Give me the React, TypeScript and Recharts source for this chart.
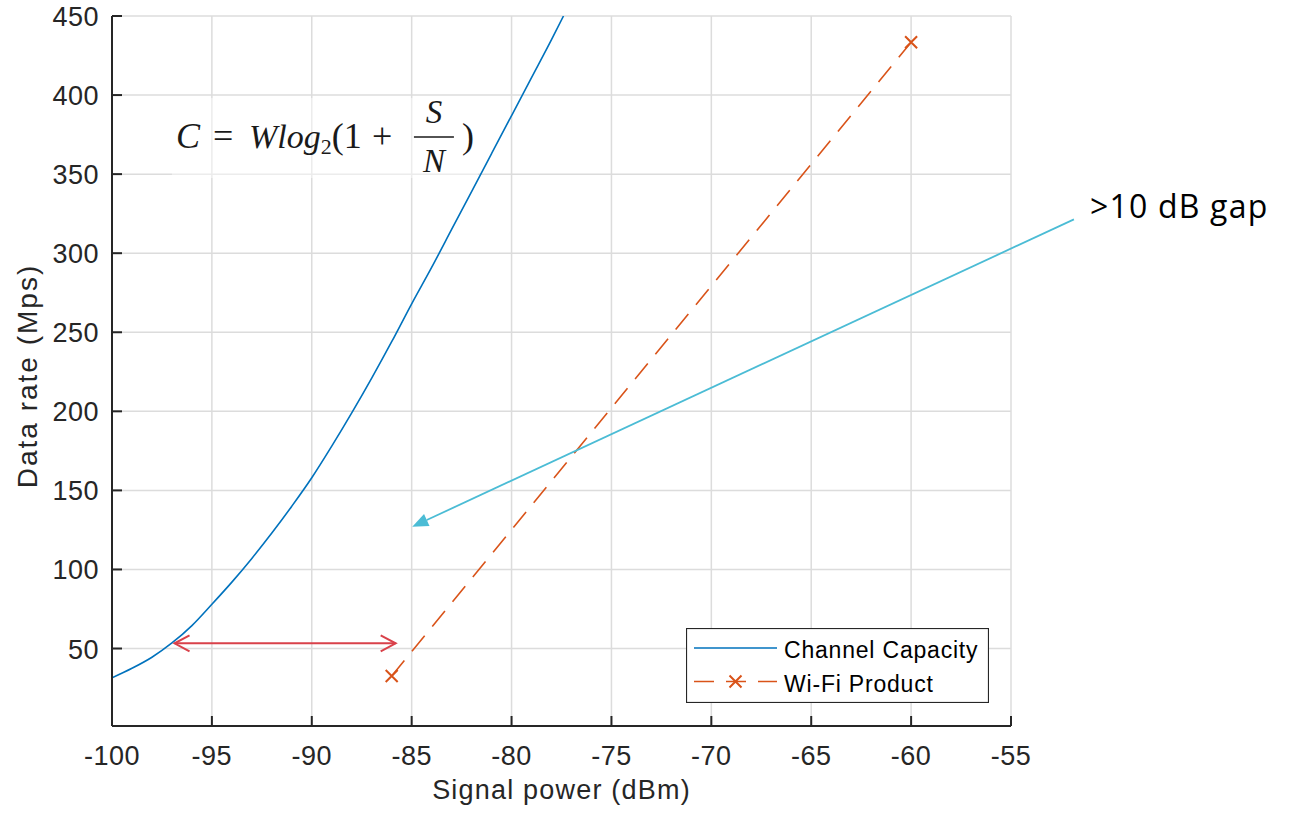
import React from 'react';
import {
  ComposedChart,
  Line,
  XAxis,
  YAxis,
  CartesianGrid,
  ReferenceLine,
  ReferenceDot,
  Legend,
} from 'recharts';

// signal power (dBm) and Shannon capacity (Mbps)
const capacityPower = [
  -100, -99, -98, -97, -96, -95, -94, -93, -92, -91, -90, -89, -88, -87, -86, -85, -84, -83, -82, -81,
  -80, -79, -78, -77.4,
];
const capacityRate = [
  31.5, 37.5, 44.5, 53.5, 64.5, 78, 92, 107, 123, 140, 158, 178, 199, 221, 244, 268, 291, 315, 339, 363,
  387, 411, 435, 450,
];

// measured Wi-Fi product points
const wifiPower = [-86, -60];
const wifiRate = [32.6, 433.4];

const xTicks = [-100, -95, -90, -85, -80, -75, -70, -65, -60, -55];
const yTicks = [50, 100, 150, 200, 250, 300, 350, 400, 450];

// annotations (data coordinates)
const gapArrow = [
  { x: -51.85, y: 321.4 },
  { x: -84.97, y: 127 },
];
const sensArrow = [
  { x: -96.87, y: 53.3 },
  { x: -85.8, y: 53.3 },
];
const formulaAnchor = { x: -96.8, y: 366.5 };

const capacityData = capacityPower.map((x, i) => ({ x, y: capacityRate[i] }));
const wifiData = wifiPower.map((x, i) => ({ x, y: wifiRate[i] }));

const AXIS = '#262626';
const BLUE = '#0072BD';
const ORANGE = '#D95319';
const CYAN = '#4BBCD5';
const RED = '#D9414A';
const SANS = '"Liberation Sans", Arial, Helvetica, sans-serif';

// tickSize 10 + tickMargin 1 => tick props sit 11px outside the axis line
const OFF = 11;
const TL = 10;

const BottomTick = (props: any) => {
  const { x, y, payload } = props;
  const ay = y - OFF;
  return (
    <g>
      <line x1={x} y1={ay} x2={x} y2={ay - TL} stroke={AXIS} strokeWidth={2} />
      <text x={x} y={ay + 39} textAnchor="middle" fill={AXIS} fontSize={27} fontFamily={SANS} letterSpacing={0.5}>
        {payload.value}
      </text>
    </g>
  );
};

const TopTick = (props: any) => {
  const { x, y } = props;
  const ay = y + OFF;
  return <line x1={x} y1={ay} x2={x} y2={ay + TL} stroke={AXIS} strokeWidth={2} />;
};

const LeftTick = (props: any) => {
  const { x, y, payload } = props;
  const ax = x + OFF;
  return (
    <g>
      <line x1={ax} y1={y} x2={ax + TL} y2={y} stroke={AXIS} strokeWidth={2} />
      <text x={ax - 13} y={y + 10} textAnchor="end" fill={AXIS} fontSize={27} fontFamily={SANS} letterSpacing={0.5}>
        {payload.value}
      </text>
    </g>
  );
};

const RightTick = (props: any) => {
  const { x, y } = props;
  const ax = x - OFF;
  return <line x1={ax} y1={y} x2={ax - TL} y2={y} stroke={AXIS} strokeWidth={2} />;
};

const XLabel = (props: any) => {
  const vb = props.viewBox;
  return (
    <text x={vb.x + vb.width / 2} y={vb.y + 73} textAnchor="middle" fill={AXIS} fontSize={27} fontFamily={SANS} letterSpacing={1.2}>
      Signal power (dBm)
    </text>
  );
};

const YLabel = (props: any) => {
  const vb = props.viewBox;
  const cx = vb.x + 37;
  const cy = vb.y + vb.height / 2 + 5;
  return (
    <text x={cx} y={cy} transform={`rotate(-90, ${cx}, ${cy})`} textAnchor="middle" fill={AXIS} fontSize={28} fontFamily={SANS} letterSpacing={2}>
      Data rate (Mps)
    </text>
  );
};

const XMarker = (props: any) => {
  const { cx, cy, key } = props;
  const s = 6;
  return (
    <path key={key} d={`M${cx - s},${cy - s}L${cx + s},${cy + s}M${cx - s},${cy + s}L${cx + s},${cy - s}`} stroke={ORANGE} strokeWidth={2} fill="none" />
  );
};

const GapArrow = (props: any) => {
  const { x1, y1, x2, y2 } = props;
  const ang = Math.atan2(y2 - y1, x2 - x1);
  const len = 16;
  const hw = 6.5;
  const bx = x2 - len * Math.cos(ang);
  const by = y2 - len * Math.sin(ang);
  const px = -Math.sin(ang) * hw;
  const py = Math.cos(ang) * hw;
  return (
    <g>
      <line x1={x1} y1={y1} x2={bx} y2={by} stroke={CYAN} strokeWidth={1.8} />
      <polygon points={`${x2},${y2} ${bx + px},${by + py} ${bx - px},${by - py}`} fill={CYAN} />
      <text x={x1 + 16} y={y1 - 1} fill="#000" fontSize={32} letterSpacing={1.2} fontFamily='"Open Sans", "Noto Sans", sans-serif'>
        &gt;10 dB gap
      </text>
    </g>
  );
};

const SensArrow = (props: any) => {
  const { x1, y1, x2, y2 } = props;
  return (
    <g stroke={RED} strokeWidth={2} fill="none">
      <line x1={x1} y1={y1} x2={x2} y2={y2} />
      <polyline points={`${x1 + 15},${y1 - 8} ${x1},${y1} ${x1 + 15},${y1 + 8}`} />
      <polyline points={`${x2 - 15},${y2 - 8} ${x2},${y2} ${x2 - 15},${y2 + 8}`} />
    </g>
  );
};

const Formula = (props: any) => {
  const { cx, cy } = props;
  const serif = '"Liberation Serif", "DejaVu Serif", serif';
  const c = '#1a1a1a';
  return (
    <g fill={c} fontFamily={serif}>
      <rect x={cx - 4} y={cy - 50} width={306} height={80} fill="#fff" fillOpacity={0.45} />
      <text x={cx} y={cy} fontSize={36}>
        <tspan fontStyle="italic">C</tspan>
        <tspan x={cx + 37}>=</tspan>
        <tspan x={cx + 73} fontStyle="italic" fontSize={34}>Wlog</tspan>
        <tspan fontSize={22} dy={6}>2</tspan>
        <tspan dy={-6}>(1</tspan>
        <tspan x={cx + 196}>+</tspan>
        <tspan x={cx + 286}>)</tspan>
      </text>
      <line x1={cx + 238} y1={cy - 11} x2={cx + 278} y2={cy - 11} stroke={c} strokeWidth={1.6} />
      <text x={cx + 258} y={cy - 25} fontSize={33} fontStyle="italic" textAnchor="middle">S</text>
      <text x={cx + 258} y={cy + 24} fontSize={33} fontStyle="italic" textAnchor="middle">N</text>
    </g>
  );
};

const LegendBox = (props: any) => {
  const payload = props.payload || [];
  return (
    <svg width={303} height={75} style={{ display: 'block' }}>
      <rect x={0.5} y={0.5} width={302} height={74} fill="#fff" stroke={AXIS} strokeWidth={1.2} />
      {payload.map((entry: any, i: number) => {
        const cy = 20 + i * 33.5;
        const dashed = entry.payload && entry.payload.strokeDasharray;
        return (
          <g key={entry.value}>
            <line x1={8} y1={cy} x2={91} y2={cy} stroke={entry.color} strokeWidth={1.6} strokeDasharray={dashed || undefined} />
            {dashed ? <XMarker cx={49.5} cy={cy} /> : null}
            <text x={98} y={cy + 10} fontSize={23} fontFamily={SANS} fill="#000" letterSpacing={0.8}>
              {entry.value}
            </text>
          </g>
        );
      })}
    </svg>
  );
};

export default function App() {
  return (
    <div style={{ width: 1293, height: 816, background: '#fff' }}>
      <style>{'body{margin:0;}'}</style>
      <ComposedChart width={1293} height={816} margin={{ top: 16, right: 282, bottom: 0, left: 0 }}>
        <CartesianGrid stroke="#dcdcdc" strokeWidth={1.5} />
        <XAxis
          type="number"
          dataKey="x"
          domain={[-100, -55]}
          ticks={xTicks}
          interval={0}
          height={90}
          tickSize={10}
          tickMargin={1}
          tickLine={false}
          axisLine={{ stroke: AXIS, strokeWidth: 2 }}
          tick={BottomTick}
          allowDataOverflow
          label={XLabel}
        />
        <XAxis
          xAxisId="top"
          orientation="top"
          type="number"
          domain={[-100, -55]}
          ticks={xTicks}
          interval={0}
          height={0}
          tickSize={10}
          tickMargin={1}
          tickLine={false}
          axisLine={{ stroke: AXIS, strokeWidth: 2 }}
          tick={TopTick}
          allowDataOverflow
        />
        <YAxis
          type="number"
          domain={[1, 450]}
          ticks={yTicks}
          interval={0}
          width={112}
          tickSize={10}
          tickMargin={1}
          tickLine={false}
          axisLine={{ stroke: AXIS, strokeWidth: 2 }}
          tick={LeftTick}
          allowDataOverflow
          label={YLabel}
        />
        <YAxis
          yAxisId="right"
          orientation="right"
          type="number"
          domain={[1, 450]}
          ticks={yTicks}
          interval={0}
          width={0}
          tickSize={10}
          tickMargin={1}
          tickLine={false}
          axisLine={{ stroke: AXIS, strokeWidth: 2 }}
          tick={RightTick}
          allowDataOverflow
        />
        <Line
          data={capacityData}
          dataKey="y"
          name="Channel Capacity"
          type="monotone"
          stroke={BLUE}
          strokeWidth={1.6}
          dot={false}
          isAnimationActive={false}
        />
        <Line
          data={wifiData}
          dataKey="y"
          name="Wi-Fi Product"
          type="linear"
          stroke={ORANGE}
          strokeWidth={1.6}
          strokeDasharray="20 12"
          dot={XMarker}
          isAnimationActive={false}
        />
        <ReferenceLine segment={gapArrow} ifOverflow="visible" shape={GapArrow} />
        <ReferenceLine segment={sensArrow} ifOverflow="visible" shape={SensArrow} />
        <ReferenceDot x={formulaAnchor.x} y={formulaAnchor.y} r={0} ifOverflow="visible" shape={Formula} />
        <Legend
          layout="vertical"
          align="center"
          verticalAlign="middle"
          content={LegendBox}
          wrapperStyle={{ left: 686, top: 628, width: 303, height: 75 }}
        />
      </ComposedChart>
    </div>
  );
}
